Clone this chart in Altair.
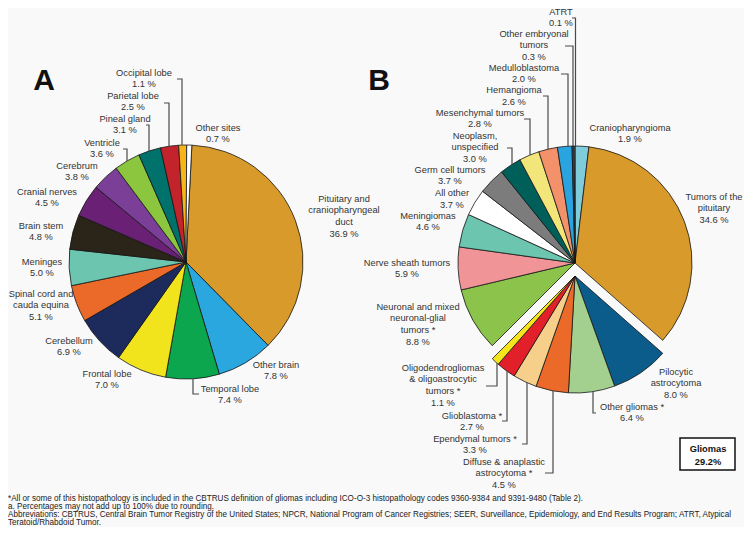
import math
import altair as alt
import pandas as pd

# ---------------- data ----------------
a_keys = ["Pituitary and craniopharyngeal duct", "Other brain", "Temporal lobe", "Frontal lobe",
          "Cerebellum", "Spinal cord and cauda equina", "Meninges", "Brain stem", "Cranial nerves",
          "Cerebrum", "Ventricle", "Pineal  gland", "Parietal lobe", "Occipital lobe", "Other sites"]
a_names = ["Pituitary and\ncraniopharyngeal\nduct", "Other brain", "Temporal lobe", "Frontal lobe",
           "Cerebellum", "Spinal cord and\ncauda equina", "Meninges", "Brain stem", "Cranial nerves",
           "Cerebrum", "Ventricle", "Pineal  gland", "Parietal lobe", "Occipital lobe", "Other sites"]
a_values = [36.9, 7.8, 7.4, 7.0, 6.9, 5.1, 5.0, 4.8, 4.5, 3.8, 3.6, 3.1, 2.5, 1.1, 0.7]

b_keys = ["Craniopharyngioma", "Tumors of the pituitary", "Pilocytic astrocytoma", "Other gliomas",
          "Diffuse & anaplastic astrocytoma", "Ependymal tumors", "Glioblastoma",
          "Oligodendrogliomas & oligoastrocytic tumors", "Neuronal and mixed neuronal-glial tumors",
          "Nerve sheath tumors", "Meningiomas", "All other", "Germ cell tumors",
          "Neoplasm, unspecified", "Mesenchymal tumors", "Hemangioma", "Medulloblastoma",
          "Other embryonal tumors", "ATRT"]
b_names = ["Craniopharyngioma", "Tumors of the\npituitary", "Pilocytic\nastrocytoma", "Other gliomas *",
           "Diffuse & anaplastic\nastrocytoma *", "Ependymal tumors *", "Glioblastoma *",
           "Oligodendrogliomas\n& oligoastrocytic\ntumors *", "Neuronal and mixed\nneuronal-glial\ntumors *",
           "Nerve sheath tumors", "Meningiomas", "All other", "Germ cell tumors",
           "Neoplasm,\nunspecified", "Mesenchymal tumors", "Hemangioma", "Medulloblastoma",
           "Other embryonal\ntumors", "ATRT"]
b_values = [1.9, 34.6, 8.0, 6.4, 4.5, 3.3, 2.7, 1.1, 8.8, 5.9, 4.6, 3.7, 3.7, 3.0, 2.8, 2.6, 2.0, 0.3, 0.1]
b_exploded = ["Pilocytic astrocytoma", "Other gliomas", "Diffuse & anaplastic astrocytoma",
              "Ependymal tumors", "Glioblastoma", "Oligodendrogliomas & oligoastrocytic tumors"]

gliomas_total = "29.2%"

footnotes = [
    "*All or some of this histopathology is included in the CBTRUS definition of gliomas including ICO-O-3 histopathology codes 9360-9384 and 9391-9480 (Table 2).",
    "a. Percentages may not add up to 100% due to rounding.",
    "Abbreviations: CBTRUS, Central Brain Tumor Registry of the United States; NPCR, National Program of Cancer Registries; SEER, Surveillance, Epidemiology, and End Results Program; ATRT, Atypical",
    "Teratoid/Rhabdoid Tumor.",
]

# ---------------- styles ----------------
a_colors = ["#D89B2B", "#2AA7DF", "#0CA64E", "#F2E41C", "#1C2A5C", "#EB6A29", "#6CC5AE", "#2B2418",
            "#6A2175", "#7C3F97", "#8CC63F", "#00716B", "#C3232B", "#F6B61A", "#FFFFFF"]
b_colors = ["#7FCCDB", "#D89B2B", "#0B5C8B", "#A3D08E", "#EB6A29", "#F6CF8B", "#E2202A", "#F3E41B",
            "#8BC34B", "#F19497", "#6CC5AE", "#FFFFFF", "#7C7C7C", "#005F58", "#F2E67B", "#F3916B",
            "#29A4DF", "#1D4F7A", "#E8E8E8"]

OFF = 8  # page margin: image coords -> chart coords
W, H = 736, 519
R = 117
A_C = (186, 262)
B_C = (575, 263)
B_EXPL = (575, 276)
A_START = 0.05
FS = 9.3
LH = 11.7
TXT = "#333333"
FONT = "Liberation Sans"

# label anchor (centre x, first-line centre y) in image pixels
a_label_pos = {
    "Pituitary and craniopharyngeal duct": (344, 199), "Other brain": (276, 365),
    "Temporal lobe": (230, 389), "Frontal lobe": (107, 374), "Cerebellum": (69, 341),
    "Spinal cord and cauda equina": (41, 294), "Meninges": (42, 262), "Brain stem": (41, 226),
    "Cranial nerves": (47, 192), "Cerebrum": (77, 166), "Ventricle": (102, 143),
    "Pineal  gland": (125, 119), "Parietal lobe": (133, 96), "Occipital lobe": (144, 73),
    "Other sites": (218, 128),
}
b_label_pos = {
    "Craniopharyngioma": (630, 128), "Tumors of the pituitary": (714, 197),
    "Pilocytic astrocytoma": (676, 372), "Other gliomas": (632, 407),
    "Diffuse & anaplastic astrocytoma": (504, 462), "Ependymal tumors": (475, 439),
    "Glioblastoma": (472, 416), "Oligodendrogliomas & oligoastrocytic tumors": (443, 368),
    "Neuronal and mixed neuronal-glial tumors": (418, 307), "Nerve sheath tumors": (407, 263),
    "Meningiomas": (428, 216), "All other": (452, 193.5), "Germ cell tumors": (450, 170),
    "Neoplasm, unspecified": (475, 136), "Mesenchymal tumors": (480, 113),
    "Hemangioma": (514, 90.5), "Medulloblastoma": (524, 68), "Other embryonal tumors": (534, 34),
    "ATRT": (561, 12),
}
# leaders: (tick start x, tick y, vertical x, circle centre, side)
leaders = [
    (177, 79, 182, A_C, -1), (164, 103, 169, A_C, -1), (146, 125, 149, A_C, -1),
    (123, 149, 127, A_C, -1), (199, 394, 193, A_C, 1),
    (572, 18, 575.5, B_C, -1), (565, 46, 573, B_C, -1), (561, 74, 568, B_C, -1),
    (543, 96, 548, B_C, -1), (524, 119, 530, B_C, -1), (507, 148, 512, B_C, -1),
    (486, 386, 497, B_EXPL, 1), (502, 421, 507, B_EXPL, 1), (522, 444, 527, B_EXPL, 1),
    (545, 473, 553, B_EXPL, 1), (596, 413, 593, B_EXPL, 1),
]

# ---------------- tables ----------------
dfA = pd.DataFrame({"key": a_keys, "value": a_values, "color": a_colors, "order": range(len(a_keys))})
dfB = pd.DataFrame({"key": b_keys, "value": b_values, "color": b_colors, "order": range(len(b_keys)),
                    "expl": [k in b_exploded for k in b_keys]})


def slices(df, start, centre, filt=None):
    ch = (alt.Chart(df)
          .transform_window(cum="sum(value)", sort=[alt.SortField("order")], frame=[None, 0])
          .transform_joinaggregate(total="sum(value)")
          .transform_calculate(t0="(datum.cum - datum.value) / datum.total", t1="datum.cum / datum.total"))
    if filt is not None:
        ch = ch.transform_filter(filt)
    return ch.mark_arc(radius=R, stroke="#151515", strokeWidth=0.8).encode(
        theta=alt.Theta("t0:Q", scale=alt.Scale(domain=[0, 1], range=[start, start + 2 * math.pi])),
        theta2="t1:Q",
        color=alt.Color("color:N", scale=None),
        x=alt.value(centre[0] - OFF), y=alt.value(centre[1] - OFF),
    )


pieA = slices(dfA, A_START, A_C)
pieB = slices(dfB, 0.0, B_C, "!datum.expl")
pieBx = slices(dfB, 0.0, B_EXPL, "datum.expl")

rows = []
for k, n, v in zip(a_keys, a_names, a_values):
    x, y = a_label_pos[k]
    rows.append({"t": f"{n}\n{v:.1f} %", "x": x - OFF, "y": y - 4.5 - OFF})
for k, n, v in zip(b_keys, b_names, b_values):
    x, y = b_label_pos[k]
    rows.append({"t": f"{n}\n{v:.1f} %", "x": x - OFF, "y": y - 4.5 - OFF})
dfL = pd.DataFrame(rows)
labels = alt.Chart(dfL).mark_text(align="center", baseline="top", lineBreak="\n", fontSize=FS,
                                  font=FONT, color=TXT, lineHeight=LH).encode(
    x=alt.X("x:Q", scale=None), y=alt.Y("y:Q", scale=None), text="t:N")

pts = []
for i, (tx, ty, vx, c, side) in enumerate(leaders):
    ey = c[1] + side * math.sqrt(max(R * R - (vx - c[0]) ** 2, 0))
    for j, (px, py) in enumerate([(tx, ty), (vx, ty), (vx, ey)]):
        pts.append({"lid": i, "o": j, "x": px - OFF, "y": py - OFF})
dfP = pd.DataFrame(pts)
lines = alt.Chart(dfP).mark_line(color="#4a4a4a", strokeWidth=1.2).encode(
    x=alt.X("x:Q", scale=None), y=alt.Y("y:Q", scale=None), detail="lid:N", order="o:Q")

panel = pd.DataFrame({"t": ["A", "B"], "x": [44 - OFF, 379 - OFF], "y": [80 - OFF, 80 - OFF]})
letters = alt.Chart(panel).mark_text(fontSize=30, fontWeight="bold", font=FONT, color="#111",
                                     baseline="middle", dy=1).encode(
    x=alt.X("x:Q", scale=None), y=alt.Y("y:Q", scale=None), text="t:N")

one = pd.DataFrame({"a": [0]})
box = alt.Chart(one).mark_rect(fill="white", stroke="#111", strokeWidth=1.5).encode(
    x=alt.value(680 - OFF), x2=alt.value(735 - OFF), y=alt.value(438 - OFF), y2=alt.value(470 - OFF))
boxtext = alt.Chart(pd.DataFrame({"t": [f"Gliomas\n{gliomas_total}"]})).mark_text(
    align="center", baseline="top", lineBreak="\n", fontSize=FS, fontWeight="bold", font=FONT,
    color="#111", lineHeight=13).encode(
    x=alt.value(708 - OFF), y=alt.value(449 - 4.5 - OFF), text="t:N")

dfF = pd.DataFrame({"t": footnotes, "y": [499 - OFF, 507 - OFF, 515 - OFF, 523 - OFF]})
foot = alt.Chart(dfF).mark_text(align="left", baseline="middle", fontSize=8.15, font=FONT,
                                color="#222").encode(
    x=alt.value(0), y=alt.Y("y:Q", scale=None), text="t:N")

chart = alt.layer(pieA, pieB, pieBx, lines, labels, letters, box, boxtext, foot).resolve_scale(
    theta="independent").properties(
    width=W, height=H, padding=0, background="#F9F9F9",
    autosize=alt.AutoSizeParams(type="none")).configure_view(stroke=None)

chart.save("out.html", embed_options={"renderer": "svg", "actions": False})
